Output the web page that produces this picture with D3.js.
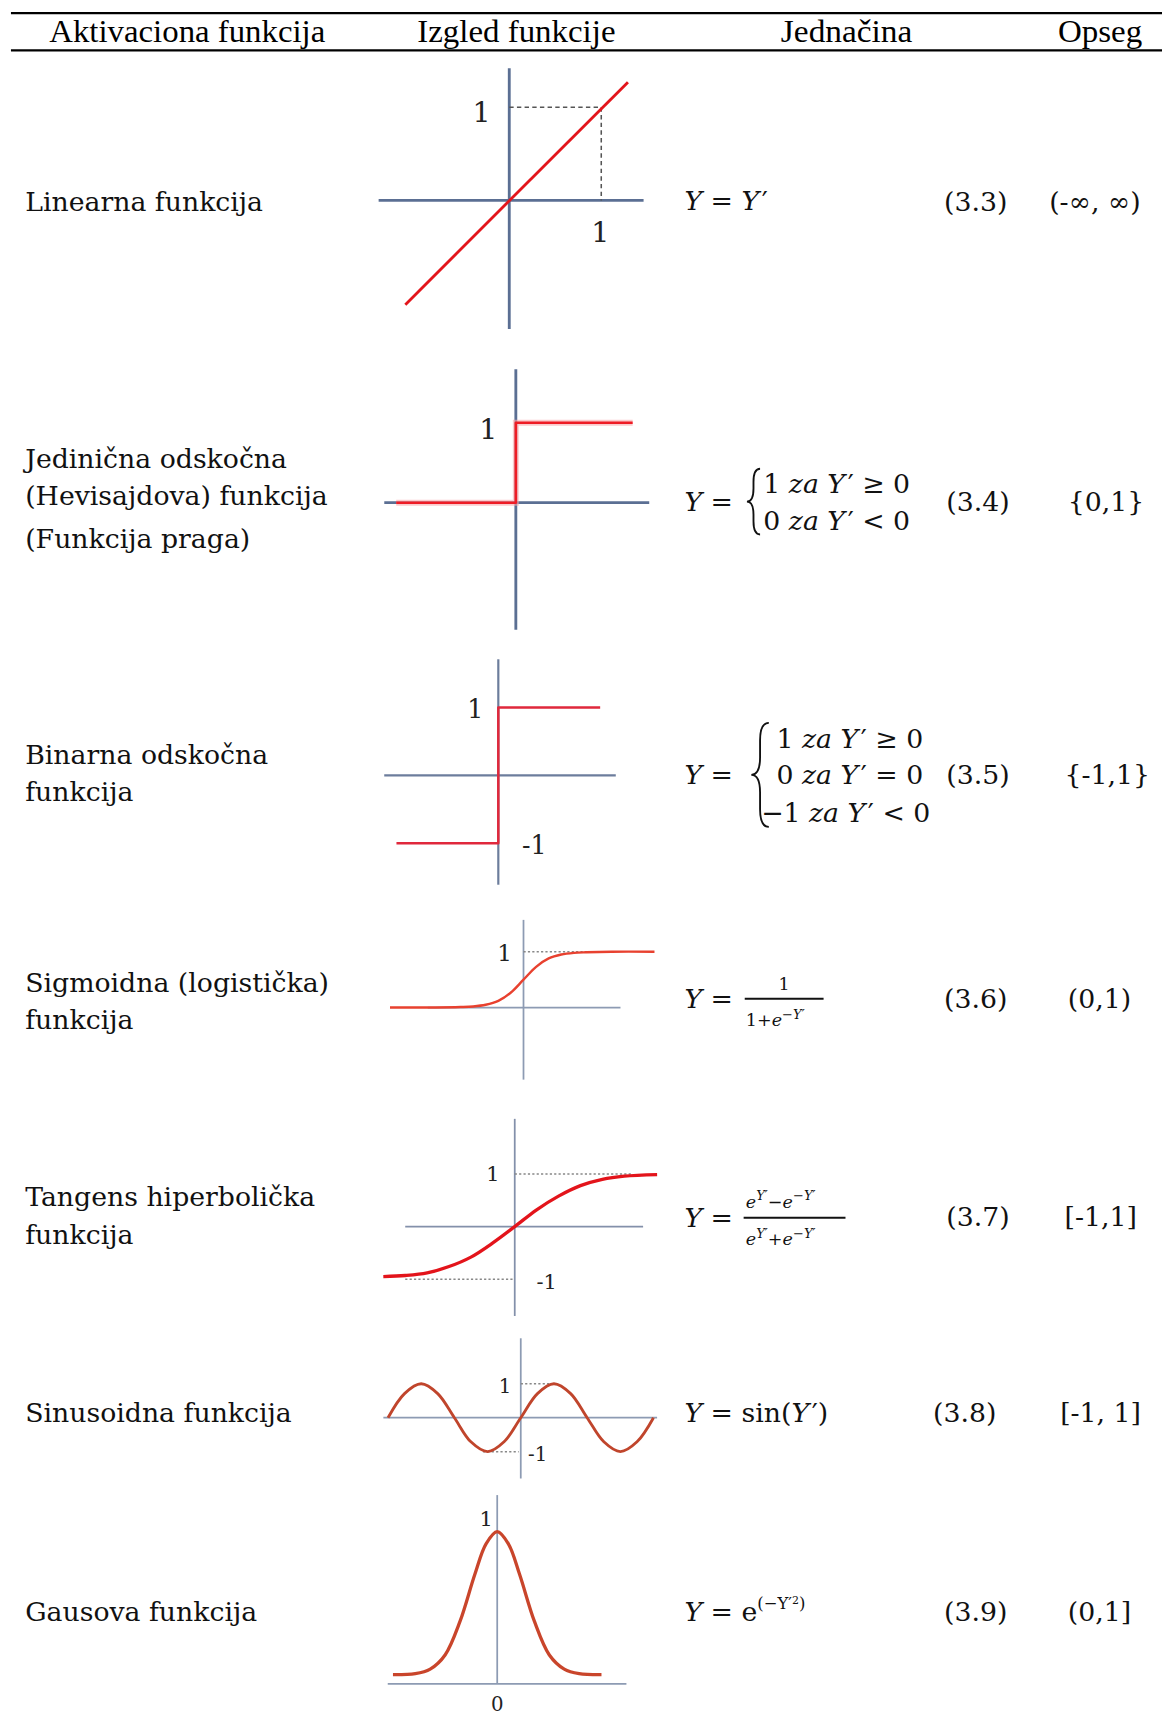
<!DOCTYPE html>
<html>
<head>
<meta charset="utf-8">
<script src="https://cdn.jsdelivr.net/npm/d3@7"></script>
<style>
  body { margin: 0; background: #fff; }
</style>
</head>
<body>
<div id="table"></div>
<script>
(function(d3) {
  'use strict';

  // ---- data ----
  var headers = ['Aktivaciona funkcija', 'Izgled funkcije', 'Jednačina', 'Opseg'];
  var names = [
    ['Linearna funkcija'],
    ['Jedinična odskočna', '(Hevisajdova) funkcija', '(Funkcija praga)'],
    ['Binarna odskočna', 'funkcija'],
    ['Sigmoidna (logistička)', 'funkcija'],
    ['Tangens hiperbolička', 'funkcija'],
    ['Sinusoidna funkcija'],
    ['Gausova funkcija']
  ];
  var eqNumbers = ['(3.3)', '(3.4)', '(3.5)', '(3.6)', '(3.7)', '(3.8)', '(3.9)'];
  var ranges = ['(-∞, ∞)', '{0,1}', '{-1,1}', '(0,1)', '[-1,1]', '[-1, 1]', '(0,1]'];

  // curve points [x, y]
  var linearPts = [[-1.13, -1.12], [1.29, 1.27]];
  var heavisidePts = [[-1.3, 0], [0, 0], [0, 1], [1.27, 1]];
  var binaryPts = [[-1.5, -1], [0, -1], [0, 1], [1.5, 1]];
  var sigmoidPts = [[-10.6, 0], [-7, 0.002], [-5, 0.01], [-4, 0.02], [-3, 0.05], [-2, 0.12], [-1, 0.27],
                    [0, 0.5], [1, 0.73], [2, 0.88], [3, 0.95], [4, 0.98], [5, 0.99], [7, 1], [10.4, 1]];
  var tanhPts = [[-3, -0.95], [-2.5, -0.93], [-2, -0.88], [-1.5, -0.76], [-1, -0.58], [-0.5, -0.31], [0, 0],
                 [0.5, 0.32], [1, 0.58], [1.5, 0.78], [2, 0.9], [2.5, 0.96], [3.25, 0.99]];
  var sinPts = [[-6.28, 0], [-5.5, 0.71], [-4.71, 1], [-3.93, 0.71], [-3.14, 0], [-2.36, -0.71], [-1.57, -1],
                [-0.79, -0.71], [0, 0], [0.79, 0.71], [1.57, 1], [2.36, 0.71], [3.14, 0], [3.93, -0.71],
                [4.71, -1], [5.5, -0.71], [6.28, 0]];
  var gaussPts = [[-2.8, 0.06], [-2.2, 0.067], [-1.8, 0.097], [-1.4, 0.19], [-1, 0.41], [-0.6, 0.72], [-0.3, 0.92],
                  [0, 1], [0.3, 0.92], [0.6, 0.72], [1, 0.41], [1.4, 0.19], [1.8, 0.097], [2.2, 0.067], [2.8, 0.06]];

  // ---- layout (measured on a 1061 px wide copy, scaled up below) ----
  var width = 1162, height = 1717;
  var k = width / 1061;
  var TXT = 'DejaVu Serif';
  var MATH = 'DejaVu Serif';

  var svg = d3.select('#table').append('svg')
    .attr('width', width)
    .attr('height', height);
  var root = svg.append('g').attr('transform', 'scale(' + k + ')');

  // header
  var headX = [171, 471.5, 773, 1004.5];
  var headW = [252, 181, 120, 77];
  root.selectAll('.head')
    .data(headers)
    .enter()
    .append('text')
    .attr('class', 'head')
    .attr('x', function(d, i) { return headX[i]; })
    .attr('y', 38)
    .attr('text-anchor', 'middle')
    .attr('font-family', 'Liberation Serif')
    .attr('font-size', 29)
    .attr('textLength', function(d, i) { return headW[i]; })
    .attr('lengthAdjust', 'spacingAndGlyphs')
    .text(function(d) { return d; });

  [12, 46].forEach(function(y) {
    root.append('line')
      .attr('x1', 10).attr('x2', 1062)
      .attr('y1', y).attr('y2', y)
      .attr('stroke', '#000').attr('stroke-width', 2);
  });

  // first column
  var nameY = [[184], [419, 453, 492], [689, 723], [897, 931], [1093, 1127], [1290], [1472]];
  names.forEach(function(lines, r) {
    lines.forEach(function(s, j) {
      root.append('text')
        .attr('x', 23)
        .attr('y', nameY[r][j] + 8.5)
        .attr('font-family', TXT)
        .attr('font-size', 24.4)
        .attr('fill', '#111')
        .text(s);
    });
  });

  // equation number and range columns
  var rowY = [184, 458, 707, 912, 1111, 1290, 1472];
  var numX = [862, 864, 864, 862, 864, 852, 862];
  var rangeX = [958, 975, 972, 975, 972, 968, 975];
  eqNumbers.forEach(function(s, i) {
    root.append('text')
      .attr('x', numX[i]).attr('y', rowY[i] + 8.5)
      .attr('font-family', TXT).attr('font-size', 24.4).attr('fill', '#111')
      .text(s);
    root.append('text')
      .attr('x', rangeX[i]).attr('y', rowY[i] + 8.5)
      .attr('font-family', TXT).attr('font-size', 24.4).attr('fill', '#111')
      .text(ranges[i]);
  });

  // ---- small function pictures ----
  var plots = [
    { pts: linearPts, cx: 465, cy: 183, ux: 84, uy: 85, xAxis: [-1.42, 1.46], yAxis: [-1.38, 1.42],
      axis: '#5b6f93', aw: 2.6, color: '#e3151b', lw: 2.6,
      guides: [[[0, 1], [1, 1], [1, 0]]], dash: '4,3', gcolor: '#555',
      labels: [['1', -0.3, 0.94, 26], ['1', 0.99, -0.34, 26]] },
    { pts: heavisidePts, cx: 471, cy: 459, ux: 84, uy: 73, xAxis: [-1.43, 1.45], yAxis: [-1.59, 1.67],
      axis: '#5b6f93', aw: 2.6, color: '#ee1c25', lw: 2.4, glow: true,
      labels: [['1', -0.3, 0.92, 26]] },
    { pts: binaryPts, cx: 455, cy: 708, ux: 62, uy: 62, xAxis: [-1.68, 1.73], yAxis: [-1.61, 1.71],
      axis: '#6c7d9c', aw: 2, color: '#e0283c', lw: 2.3,
      labels: [['1', -0.34, 0.97, 23], ['-1', 0.53, -1.03, 23]] },
    { pts: sigmoidPts, cx: 478, cy: 920, ux: 11.5, uy: 51, xAxis: [-7.6, 7.7], yAxis: [-1.29, 1.57],
      axis: '#8d9bb3', aw: 1.6, color: '#e8412f', lw: 2.2, smooth: true,
      guides: [[[0, 1], [7.1, 1]]], dash: '2,2', gcolor: '#888',
      labels: [['1', -1.5, 0.98, 21]] },
    { pts: tanhPts, cx: 470, cy: 1120, ux: 40, uy: 48, xAxis: [-2.5, 2.93], yAxis: [-1.7, 2.05],
      axis: '#8390aa', aw: 1.6, color: '#e3141b', lw: 3, smooth: true,
      guides: [[[0, 1], [2.7, 1]], [[-2.5, -1], [0, -1]]], dash: '2,2', gcolor: '#888',
      labels: [['1', -0.5, 1.0, 19], ['-1', 0.73, -1.06, 19]] },
    { pts: sinPts, cx: 475.5, cy: 1294.5, ux: 19.3, uy: 31, xAxis: [-6.5, 6.45], yAxis: [-1.79, 2.34],
      axis: '#8d9bb3', aw: 1.6, color: '#c0452c', lw: 2.6, smooth: true,
      guides: [[[0, 1], [1.57, 1]], [[-1.79, -1], [-0.1, -1]]], dash: '2,2', gcolor: '#888',
      labels: [['1', -0.75, 0.92, 18], ['-1', 0.8, -1.08, 18]] },
    { pts: gaussPts, cx: 454, cy: 1537.5, ux: 34, uy: 139, xAxis: [-2.94, 3.47], yAxis: [0, 1.24],
      axis: '#8d9bb3', aw: 1.6, color: '#c9452b', lw: 3, smooth: true,
      labels: [['1', -0.3, 1.08, 19], ['0', 0, -0.135, 18]] }
  ];

  plots.forEach(function(p) {
    var x = d3.scaleLinear().domain([0, 1]).range([p.cx, p.cx + p.ux]);
    var y = d3.scaleLinear().domain([0, 1]).range([p.cy, p.cy - p.uy]);
    var g = root.append('g');

    g.append('line')
      .attr('x1', x(p.xAxis[0])).attr('x2', x(p.xAxis[1]))
      .attr('y1', y(0)).attr('y2', y(0))
      .attr('stroke', p.axis).attr('stroke-width', p.aw);
    g.append('line')
      .attr('x1', x(0)).attr('x2', x(0))
      .attr('y1', y(p.yAxis[0])).attr('y2', y(p.yAxis[1]))
      .attr('stroke', p.axis).attr('stroke-width', p.aw);

    var line = d3.line()
      .x(function(d) { return x(d[0]); })
      .y(function(d) { return y(d[1]); });

    (p.guides || []).forEach(function(gd) {
      g.append('path')
        .attr('d', line(gd))
        .attr('fill', 'none')
        .attr('stroke', p.gcolor)
        .attr('stroke-width', 1.4)
        .attr('stroke-dasharray', p.dash);
    });

    if (p.smooth) line.curve(d3.curveCatmullRom.alpha(0.5));

    if (p.glow) {
      g.append('path')
        .attr('d', line(p.pts))
        .attr('fill', 'none')
        .attr('stroke', '#f6a9ac')
        .attr('stroke-width', p.lw + 3)
        .attr('opacity', 0.6);
    }
    g.append('path')
      .attr('d', line(p.pts))
      .attr('fill', 'none')
      .attr('stroke', p.color)
      .attr('stroke-width', p.lw)
      .attr('stroke-linejoin', 'round');

    p.labels.forEach(function(l) {
      g.append('text')
        .attr('x', x(l[1])).attr('y', y(l[2]))
        .attr('text-anchor', 'middle')
        .attr('dominant-baseline', 'central')
        .attr('font-family', TXT)
        .attr('font-size', l[3])
        .attr('fill', '#222')
        .text(l[0]);
    });
  });

  // ---- equations ----
  function mtext(x, y, size) {
    return root.append('text')
      .attr('x', x).attr('y', y)
      .attr('font-family', MATH)
      .attr('font-size', size || 24.4)
      .attr('fill', '#111');
  }
  function run(t, s, opt) {
    opt = opt || {};
    var ts = t.append('tspan').text(s);
    if (opt.it) ts.attr('font-style', 'italic');
    if (opt.dy) ts.attr('dy', opt.dy);
    if (opt.dx) ts.attr('dx', opt.dx);
    if (opt.size) ts.attr('font-size', opt.size);
    return ts;
  }
  // italic Y followed by a prime that does not run into it
  function yprime(t, size, dy) {
    run(t, 'Y', { it: true, size: size, dy: dy });
    run(t, '′', { dx: (size || 24.4) * 0.1, size: size });
  }
  function brace(xl, xr, y0, y1) {
    var w = xr - xl, xm = xl + w * 0.5, ym = (y0 + y1) / 2;
    var p = d3.path();
    p.moveTo(xr, y0);
    p.quadraticCurveTo(xm, y0, xm, y0 + w);
    p.lineTo(xm, ym - w);
    p.quadraticCurveTo(xm, ym, xl, ym);
    p.quadraticCurveTo(xm, ym, xm, ym + w);
    p.lineTo(xm, y1 - w);
    p.quadraticCurveTo(xm, y1, xr, y1);
    root.append('path').attr('d', p.toString())
      .attr('fill', 'none').attr('stroke', '#111').attr('stroke-width', 1.7);
  }
  function bar(x0, x1, y) {
    root.append('line').attr('x1', x0).attr('x2', x1).attr('y1', y).attr('y2', y)
      .attr('stroke', '#111').attr('stroke-width', 1.8);
  }

  // Y = Y'
  var t = mtext(625, 192);
  run(t, 'Y', { it: true }); run(t, ' = '); yprime(t);

  // Heaviside
  t = mtext(625, 467);
  run(t, 'Y', { it: true }); run(t, ' =');
  brace(682, 694, 428, 488);
  t = mtext(697, 450);
  run(t, '1 '); run(t, 'za ', { it: true }); yprime(t); run(t, ' ≥ 0');
  t = mtext(697, 484);
  run(t, '0 '); run(t, 'za ', { it: true }); yprime(t); run(t, ' < 0');

  // binary step
  t = mtext(625, 716);
  run(t, 'Y', { it: true }); run(t, ' =');
  brace(686, 702, 660, 755);
  t = mtext(709, 683);
  run(t, '1 '); run(t, 'za ', { it: true }); yprime(t); run(t, ' ≥ 0');
  t = mtext(709, 716);
  run(t, '0 '); run(t, 'za ', { it: true }); yprime(t); run(t, ' = 0');
  t = mtext(695, 751);
  run(t, '−1 '); run(t, 'za ', { it: true }); yprime(t); run(t, ' < 0');

  // sigmoid
  t = mtext(625, 920);
  run(t, 'Y', { it: true }); run(t, ' =');
  bar(680, 752, 912);
  t = mtext(716, 904, 16).attr('text-anchor', 'middle');
  run(t, '1');
  t = mtext(681, 937, 16);
  run(t, '1+'); run(t, 'e', { it: true }); run(t, '−Y′', { it: true, dy: -7, size: 12 });

  // tanh
  t = mtext(625, 1120);
  run(t, 'Y', { it: true }); run(t, ' =');
  bar(679, 772, 1112);
  t = mtext(681, 1103, 16);
  run(t, 'e', { it: true }); run(t, 'Y′', { it: true, dy: -7, size: 12 });
  run(t, '−', { dy: 7 }); run(t, 'e', { it: true }); run(t, '−Y′', { it: true, dy: -7, size: 12 });
  t = mtext(681, 1137, 16);
  run(t, 'e', { it: true }); run(t, 'Y′', { it: true, dy: -7, size: 12 });
  run(t, '+', { dy: 7 }); run(t, 'e', { it: true }); run(t, '−Y′', { it: true, dy: -7, size: 12 });

  // sin
  t = mtext(625, 1298.5);
  run(t, 'Y', { it: true }); run(t, ' = sin('); yprime(t); run(t, ')');

  // gauss
  t = mtext(625, 1480.5);
  run(t, 'Y', { it: true }); run(t, ' = e');
  run(t, '(−Y′', { dy: -11, size: 15 });
  run(t, '2', { dy: -5, size: 10 });
  run(t, ')', { dy: 5, size: 15 });

})(window.d3);
</script>
</body>
</html>
